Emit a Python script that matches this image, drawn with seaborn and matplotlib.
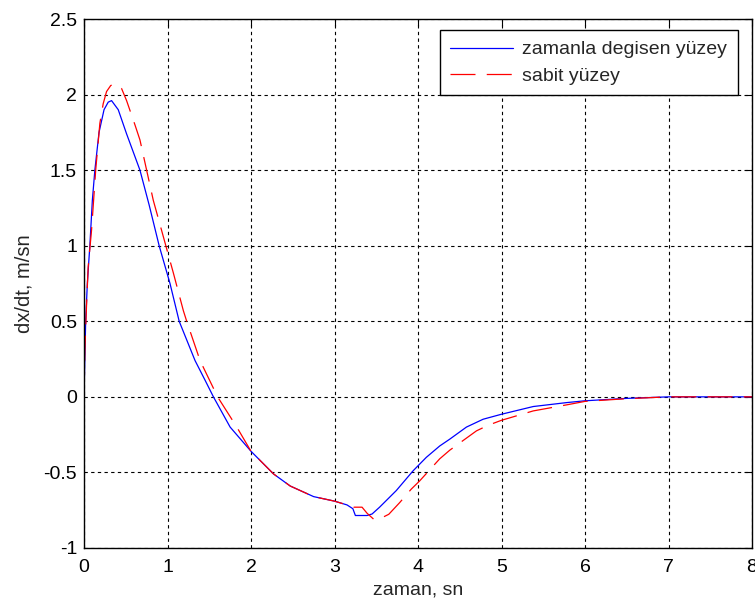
import matplotlib
matplotlib.use("Agg")
import matplotlib.pyplot as plt
import seaborn as sns
import pandas as pd

t_blue = [0, 0.01, 0.02, 0.04, 0.07, 0.10, 0.13, 0.18, 0.24, 0.29, 0.33, 0.41, 0.51,
          0.67, 0.78, 0.90, 1.03, 1.14, 1.33, 1.45, 1.55, 1.75, 2.0, 2.27, 2.47, 2.75,
          3.0, 3.15, 3.22, 3.25, 3.39, 3.45, 3.54, 3.74, 3.94, 4.10, 4.26, 4.38, 4.58,
          4.78, 5.0, 5.38, 5.78, 6.0, 6.5, 7.0, 8.0]
v_blue = [0, 0.25, 0.5, 0.75, 1.0, 1.3, 1.5, 1.75, 1.9, 1.95, 1.96, 1.90, 1.74,
          1.5, 1.27, 1.0, 0.75, 0.5, 0.24, 0.11, 0.0, -0.2, -0.36, -0.51, -0.59, -0.66,
          -0.69, -0.715, -0.74, -0.785, -0.785, -0.775, -0.73, -0.62, -0.49, -0.40,
          -0.325, -0.28, -0.20, -0.148, -0.115, -0.064, -0.038, -0.026, -0.01, 0.0, 0.0]

t_red = [0, 0.01, 0.03, 0.05, 0.09, 0.14, 0.19, 0.23, 0.27, 0.32, 0.37, 0.41, 0.45,
         0.51, 0.61, 0.67, 0.73, 0.83, 0.95, 1.07, 1.19, 1.23, 1.39, 1.6, 1.83, 2.0,
         2.27, 2.47, 2.75, 3.0, 3.15, 3.23, 3.33, 3.39, 3.47, 3.53, 3.65, 3.78, 3.92,
         4.02, 4.26, 4.38, 4.70, 4.84, 5.0, 5.38, 5.78, 6.0, 6.5, 7.0, 8.0]
v_red = [0, 0.3, 0.6, 0.86, 1.10, 1.5, 1.81, 1.94, 2.02, 2.06, 2.07, 2.06, 2.04,
         1.96, 1.80, 1.70, 1.55, 1.30, 1.06, 0.82, 0.57, 0.5, 0.24, 0.0, -0.2, -0.36,
         -0.51, -0.59, -0.66, -0.69, -0.715, -0.73, -0.73, -0.77, -0.81, -0.81, -0.777,
         -0.70, -0.61, -0.556, -0.41, -0.353, -0.225, -0.188, -0.155, -0.093, -0.053,
         -0.03, -0.012, 0.0, 0.0]

labels = ["zamanla degisen yüzey", "sabit yüzey"]
x_ticks = [0, 1, 2, 3, 4, 5, 6, 7, 8]
y_ticks = [-1, -0.5, 0, 0.5, 1, 1.5, 2, 2.5]
y_tick_labels = ["-1", "-0.5", "0", "0.5", "1", "1.5", "2", "2.5"]

sns.set_style("white")
plt.rcParams['font.family'] = ['Liberation Sans', 'DejaVu Sans']

fig = plt.figure(figsize=(7.55, 6.06), dpi=100)
ax = fig.add_axes([84/755, 1 - 548/606, (752-84)/755, (548-19)/606])

df_b = pd.DataFrame({"t": t_blue, "v": v_blue})
df_r = pd.DataFrame({"t": t_red, "v": v_red})
sns.lineplot(data=df_b, x="t", y="v", ax=ax, color="#0000ff", lw=0.9,
             sort=False, estimator=None, label=labels[0])
sns.lineplot(data=df_r, x="t", y="v", ax=ax, color="#ff0000", lw=0.9,
             sort=False, estimator=None, label=labels[1])
ax.lines[1].set_dashes((20, 9))

ax.set_xlim(0, 8)
ax.set_ylim(-1, 2.5)
ax.set_xticks(x_ticks)
ax.set_xticklabels([str(v) for v in x_ticks])
ax.set_yticks(y_ticks)
ax.set_yticklabels(y_tick_labels)
ax.grid(True, color="black", linestyle=(0, (3, 3)), lw=0.8)
ax.tick_params(axis="both", direction="in", length=5, width=0.8, top=True, right=True,
               labelsize=14, colors="black")
ax.tick_params(axis="x", pad=8)
ax.tick_params(axis="y", pad=5)
for s in ax.spines.values():
    s.set_color("black")
    s.set_linewidth(1.0)
    s.set_visible(True)

ax.set_xlabel("zaman, sn", fontsize=14, labelpad=4)
ax.set_ylabel("dx/dt, m/sn", fontsize=14.5, labelpad=7)

leg = ax.legend(loc="upper right", bbox_to_anchor=(0.979, 0.979), borderaxespad=0,
                fontsize=14, frameon=True, fancybox=False, shadow=False, framealpha=1,
                edgecolor="black", handlelength=3.2, borderpad=0.55,
                labelspacing=0.45, handletextpad=0.5)
leg.get_frame().set_linewidth(1.0)

fig.savefig("out.png", dpi=100)
